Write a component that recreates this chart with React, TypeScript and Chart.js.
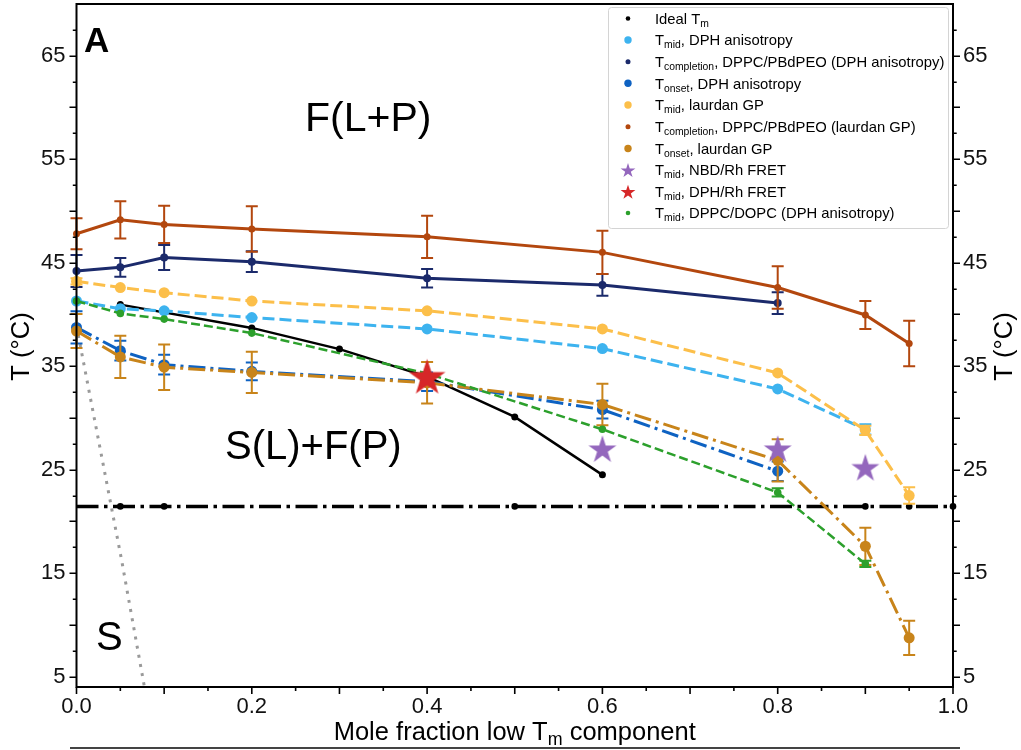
import React, { useEffect, useRef } from "react";
import { Chart, registerables } from "chart.js";

Chart.register(...registerables);

const FONT = '"Liberation Sans", Arial, Helvetica, sans-serif';

// ---------------- data ----------------
const idealX = [0.05, 0.2, 0.3, 0.4, 0.5, 0.6];
const idealY = [40.95, 38.7, 36.65, 34.0, 30.1, 24.5];

const eutecticX = [0, 0.05, 0.1, 0.5, 0.9, 0.95, 1.0];
const eutecticY = [21.45, 21.45, 21.45, 21.45, 21.45, 21.45, 21.45];
const eutecticDot = [0, 3.3, 3.3, 3.3, 3.3, 3.3, 3.3];

const solidusX = [0, 0.0516, 0.0775];
const solidusY = [38.9, 16.2, 4.0];

const dphMidX = [0, 0.05, 0.1, 0.2, 0.4, 0.6, 0.8, 0.9];
const dphMidY = [41.3, 40.55, 40.35, 39.7, 38.6, 36.7, 32.8, 28.9];
const dphMidErr = [0, 0, 0, 0, 0, 0, 0, 0.5];

const dphCompX = [0, 0.05, 0.1, 0.2, 0.4, 0.6, 0.8];
const dphCompY = [44.2, 44.55, 45.5, 45.1, 43.5, 42.85, 41.1];
const dphCompErr = [1.55, 0.9, 1.2, 1.0, 0.9, 1.05, 1.05];

const dphOnsetX = [0, 0.05, 0.1, 0.2, 0.4, 0.6, 0.8];
const dphOnsetY = [38.75, 36.5, 35.15, 34.5, 33.5, 30.8, 24.85];
const dphOnsetErr = [1.55, 0.95, 0.95, 0.85, 0.9, 0.85, 0.95];

const lauMidX = [0, 0.05, 0.1, 0.2, 0.4, 0.6, 0.8, 0.9, 0.95];
const lauMidY = [43.2, 42.6, 42.1, 41.3, 40.35, 38.6, 34.35, 28.8, 22.5];
const lauMidErr = [0.3, 0, 0, 0, 0, 0, 0, 0.45, 0.8];

const lauCompX = [0, 0.05, 0.1, 0.2, 0.4, 0.6, 0.8, 0.9, 0.95];
const lauCompY = [47.8, 49.15, 48.7, 48.25, 47.5, 46.0, 42.6, 39.95, 37.2];
const lauCompErr = [1.5, 1.8, 1.8, 2.2, 2.05, 2.1, 2.05, 1.35, 2.2];

const lauOnsetX = [0, 0.05, 0.1, 0.2, 0.4, 0.6, 0.8, 0.9, 0.95];
const lauOnsetY = [38.4, 35.9, 34.9, 34.4, 33.4, 31.3, 25.9, 17.6, 8.75];
const lauOnsetErr = [1.65, 2.05, 2.2, 2.0, 2.0, 2.0, 2.05, 1.8, 1.65];

const nbdX = [0.6, 0.8, 0.9];
const nbdY = [26.9, 26.9, 25.1];

const dphRhX = [0.4];
const dphRhY = [33.85];

const dopcX = [0, 0.05, 0.1, 0.2, 0.4, 0.6, 0.8, 0.9];
const dopcY = [41.3, 40.1, 39.55, 38.2, 34.3, 28.9, 22.8, 15.9];
const dopcErr = [0, 0, 0, 0, 0, 0, 0.4, 0.3];

const xTickLabels = [0, 0.2, 0.4, 0.6, 0.8, 1.0];
const yTickLabels = [5, 15, 25, 35, 45, 55, 65];

type Seg = { t: string; sub?: boolean };
const legendLabels: Seg[][] = [
  [{ t: "Ideal T" }, { t: "m", sub: true }],
  [{ t: "T" }, { t: "mid", sub: true }, { t: ", DPH anisotropy" }],
  [{ t: "T" }, { t: "completion", sub: true }, { t: ", DPPC/PBdPEO (DPH anisotropy)" }],
  [{ t: "T" }, { t: "onset", sub: true }, { t: ", DPH anisotropy" }],
  [{ t: "T" }, { t: "mid", sub: true }, { t: ", laurdan GP" }],
  [{ t: "T" }, { t: "completion", sub: true }, { t: ", DPPC/PBdPEO (laurdan GP)" }],
  [{ t: "T" }, { t: "onset", sub: true }, { t: ", laurdan GP" }],
  [{ t: "T" }, { t: "mid", sub: true }, { t: ", NBD/Rh FRET" }],
  [{ t: "T" }, { t: "mid", sub: true }, { t: ", DPH/Rh FRET" }],
  [{ t: "T" }, { t: "mid", sub: true }, { t: ", DPPC/DOPC (DPH anisotropy)" }],
];

// ---------------- styles ----------------
const C = {
  black: "#000000",
  grey: "#9a9a9a",
  lightBlue: "#3db3ef",
  navy: "#1b2a6b",
  blue: "#0e62c2",
  yellow: "#fcbf4a",
  rust: "#b3470e",
  gold: "#c8841a",
  purple: "#9467bd",
  red: "#d62728",
  green: "#2ca02c",
};

const legendMarkers: { kind: "dot" | "star"; color: string; r: number }[] = [
  { kind: "dot", color: C.black, r: 2.3 },
  { kind: "dot", color: C.lightBlue, r: 3.7 },
  { kind: "dot", color: C.navy, r: 2.5 },
  { kind: "dot", color: C.blue, r: 3.7 },
  { kind: "dot", color: C.yellow, r: 3.7 },
  { kind: "dot", color: C.rust, r: 2.5 },
  { kind: "dot", color: C.gold, r: 3.7 },
  { kind: "star", color: C.purple, r: 7.8 },
  { kind: "star", color: C.red, r: 7.8 },
  { kind: "dot", color: C.green, r: 2.3 },
];

function starPath(g: CanvasRenderingContext2D, cx: number, cy: number, R: number) {
  const r = R * 0.381966;
  g.beginPath();
  for (let i = 0; i < 10; i++) {
    const a = -Math.PI / 2 + (i * Math.PI) / 5;
    const rr = i % 2 === 0 ? R : r;
    const px = cx + rr * Math.cos(a);
    const py = cy + rr * Math.sin(a);
    if (i === 0) g.moveTo(px, py);
    else g.lineTo(px, py);
  }
  g.closePath();
}

function makeStar(R: number, color: string): HTMLCanvasElement {
  const size = Math.ceil(2 * R + 4);
  const c = document.createElement("canvas");
  c.width = size;
  c.height = size;
  const g = c.getContext("2d")!;
  g.fillStyle = color;
  starPath(g, size / 2, size / 2, R);
  g.fill();
  return c;
}

function pts(xs: number[], ys: number[]) {
  return xs.map((x, i) => ({ x, y: ys[i] }));
}

function richWidth(ctx: CanvasRenderingContext2D, segs: Seg[], size: number) {
  let w = 0;
  for (const s of segs) {
    ctx.font = `${s.sub ? size * 0.7 : size}px ${FONT}`;
    w += ctx.measureText(s.t).width;
  }
  return w;
}

function drawRich(
  ctx: CanvasRenderingContext2D,
  segs: Seg[],
  x: number,
  y: number,
  size: number,
  subDrop: number,
  align: "left" | "center"
) {
  const w = richWidth(ctx, segs, size);
  let cx = align === "center" ? x - w / 2 : x;
  ctx.textAlign = "left";
  ctx.textBaseline = "alphabetic";
  for (const s of segs) {
    ctx.font = `${s.sub ? size * 0.7 : size}px ${FONT}`;
    ctx.fillText(s.t, cx, s.sub ? y + subDrop : y);
    cx += ctx.measureText(s.t).width;
  }
}

// ---------------- plugins ----------------
const errorBarPlugin = {
  id: "errorBars",
  beforeDatasetDraw(chart: any, args: any) {
    const ds = chart.data.datasets[args.index];
    if (!ds.errs) return;
    const ctx: CanvasRenderingContext2D = chart.ctx;
    const xs = chart.scales.x;
    const ys = chart.scales.y;
    ctx.save();
    ctx.strokeStyle = ds.borderColor;
    ctx.lineWidth = 2;
    ctx.setLineDash([]);
    ds.data.forEach((p: any, i: number) => {
      const e = ds.errs[i];
      if (!e) return;
      const px = xs.getPixelForValue(p.x);
      const y1 = ys.getPixelForValue(p.y - e);
      const y2 = ys.getPixelForValue(p.y + e);
      ctx.beginPath();
      ctx.moveTo(px, y1);
      ctx.lineTo(px, y2);
      ctx.moveTo(px - 6, y1);
      ctx.lineTo(px + 6, y1);
      ctx.moveTo(px - 6, y2);
      ctx.lineTo(px + 6, y2);
      ctx.stroke();
    });
    ctx.restore();
  },
};

const framePlugin = {
  id: "frameTicks",
  afterDatasetsDraw(chart: any) {
    const ctx: CanvasRenderingContext2D = chart.ctx;
    const { left, right, top, bottom } = chart.chartArea;
    const xs = chart.scales.x;
    const ys = chart.scales.y;
    ctx.save();
    ctx.strokeStyle = "#000";
    ctx.setLineDash([]);
    ctx.lineWidth = 2;
    ctx.strokeRect(left, top, right - left, bottom - top);
    ctx.lineWidth = 1.6;
    ctx.beginPath();
    for (let k = 2; k <= 27; k++) {
      const v = k * 2.5;
      const major = k % 2 === 0;
      const len = major ? 7 : 3.7;
      const py = Math.round(ys.getPixelForValue(v)) + 0.2;
      ctx.moveTo(left - len, py);
      ctx.lineTo(left, py);
      ctx.moveTo(right, py);
      ctx.lineTo(right + len, py);
    }
    for (let k = 0; k <= 20; k++) {
      const v = k * 0.05;
      const major = k % 2 === 0;
      const len = major ? 7 : 4;
      const px = xs.getPixelForValue(v);
      ctx.moveTo(px, bottom);
      ctx.lineTo(px, bottom + len);
    }
    ctx.stroke();
    ctx.restore();
  },
};

const annotationPlugin = {
  id: "annotations",
  afterDraw(chart: any) {
    const ctx: CanvasRenderingContext2D = chart.ctx;
    const { left, right, top, bottom } = chart.chartArea;
    ctx.save();
    ctx.fillStyle = "#000";

    // panel letter
    ctx.font = `bold 35px ${FONT}`;
    ctx.textAlign = "left";
    ctx.textBaseline = "alphabetic";
    ctx.fillText("A", 84, 52);

    // region labels
    ctx.font = `41px ${FONT}`;
    ctx.fillText("F(L+P)", 305, 131);
    ctx.font = `40px ${FONT}`;
    ctx.fillText("S(L)+F(P)", 225, 459);
    ctx.fillText("S", 96, 650);

    // axis titles
    ctx.font = `25.5px ${FONT}`;
    const midY = (top + bottom) / 2 + 1;
    ctx.save();
    ctx.translate(29, midY);
    ctx.rotate(-Math.PI / 2);
    ctx.textAlign = "center";
    ctx.fillText("T (°C)", 0, 0);
    ctx.restore();
    ctx.save();
    ctx.translate(1011.5, midY);
    ctx.rotate(-Math.PI / 2);
    ctx.textAlign = "center";
    ctx.fillText("T (°C)", 0, 0);
    ctx.restore();

    drawRich(
      ctx,
      [{ t: "Mole fraction low T" }, { t: "m", sub: true }, { t: " component" }],
      (left + right) / 2,
      740,
      25.5,
      4.5,
      "center"
    );

    // cut edge line at bottom
    ctx.strokeStyle = "#444";
    ctx.lineWidth = 2;
    ctx.beginPath();
    ctx.moveTo(70, 748);
    ctx.lineTo(960, 748);
    ctx.stroke();

    // legend
    const bx = 608.5, by = 7.5, bw = 340, bh = 221;
    ctx.beginPath();
    const rr = 3;
    ctx.moveTo(bx + rr, by);
    ctx.lineTo(bx + bw - rr, by);
    ctx.quadraticCurveTo(bx + bw, by, bx + bw, by + rr);
    ctx.lineTo(bx + bw, by + bh - rr);
    ctx.quadraticCurveTo(bx + bw, by + bh, bx + bw - rr, by + bh);
    ctx.lineTo(bx + rr, by + bh);
    ctx.quadraticCurveTo(bx, by + bh, bx, by + bh - rr);
    ctx.lineTo(bx, by + rr);
    ctx.quadraticCurveTo(bx, by, bx + rr, by);
    ctx.closePath();
    ctx.fillStyle = "rgba(255,255,255,0.85)";
    ctx.fill();
    ctx.strokeStyle = "#d4d4d4";
    ctx.lineWidth = 1;
    ctx.stroke();

    const rowY = [18.5, 40, 61.7, 83.3, 105, 126.7, 148.5, 170, 191.7, 213];
    legendLabels.forEach((segs, i) => {
      const m = legendMarkers[i];
      const cy = rowY[i];
      ctx.fillStyle = m.color;
      if (m.kind === "dot") {
        ctx.beginPath();
        ctx.arc(628, cy, m.r, 0, Math.PI * 2);
        ctx.fill();
      } else {
        starPath(ctx, 628, cy + 0.8, m.r);
        ctx.fill();
      }
      ctx.fillStyle = "#000";
      drawRich(ctx, segs, 655, cy + 5.4, 14.8, 3, "left");
    });
    ctx.restore();
  },
};

function noPad(s: any) {
  s.paddingTop = 0;
  s.paddingBottom = 0;
  s.paddingLeft = 0;
  s.paddingRight = 0;
}

// ---------------- component ----------------
export default function App() {
  const ref = useRef<HTMLCanvasElement>(null);

  useEffect(() => {
    const canvas = ref.current;
    if (!canvas) return;

    const purpleStar = makeStar(14.7, C.purple);
    const redStar = makeStar(19.3, C.red);

    const base = {
      tension: 0,
      pointBorderWidth: 0,
      pointHoverRadius: 0,
      clip: false as any,
      fill: false,
    };

    const datasets: any[] = [
      {
        ...base,
        label: "Ideal Tm",
        data: pts(idealX, idealY),
        borderColor: C.black,
        backgroundColor: C.black,
        pointBackgroundColor: C.black,
        borderWidth: 2.5,
        pointRadius: 3.5,
      },
      {
        ...base,
        label: "eutectic",
        data: pts(eutecticX, eutecticY),
        borderColor: C.black,
        pointBackgroundColor: C.black,
        borderWidth: 3.5,
        borderDash: [22, 5.5, 3.5, 5.5],
        pointRadius: eutecticDot,
      },
      {
        ...base,
        label: "solidus",
        data: pts(solidusX, solidusY),
        borderColor: C.grey,
        borderWidth: 3,
        borderDash: [3, 6.3],
        pointRadius: 0,
      },
      {
        ...base,
        label: "Tmid DPH",
        data: pts(dphMidX, dphMidY),
        errs: dphMidErr,
        borderColor: C.lightBlue,
        pointBackgroundColor: C.lightBlue,
        borderWidth: 3,
        borderDash: [12, 5],
        pointRadius: 5.5,
      },
      {
        ...base,
        label: "Tcomp DPH",
        data: pts(dphCompX, dphCompY),
        errs: dphCompErr,
        borderColor: C.navy,
        pointBackgroundColor: C.navy,
        borderWidth: 3,
        pointRadius: 4,
      },
      {
        ...base,
        label: "Tonset DPH",
        data: pts(dphOnsetX, dphOnsetY),
        errs: dphOnsetErr,
        borderColor: C.blue,
        pointBackgroundColor: C.blue,
        borderWidth: 3,
        borderDash: [17, 5, 3, 5],
        pointRadius: 5.5,
      },
      {
        ...base,
        label: "Tmid laurdan",
        data: pts(lauMidX, lauMidY),
        errs: lauMidErr,
        borderColor: C.yellow,
        pointBackgroundColor: C.yellow,
        borderWidth: 3,
        borderDash: [12, 5],
        pointRadius: 5.5,
      },
      {
        ...base,
        label: "Tcomp laurdan",
        data: pts(lauCompX, lauCompY),
        errs: lauCompErr,
        borderColor: C.rust,
        pointBackgroundColor: C.rust,
        borderWidth: 3,
        pointRadius: 3.5,
      },
      {
        ...base,
        label: "Tonset laurdan",
        data: pts(lauOnsetX, lauOnsetY),
        errs: lauOnsetErr,
        borderColor: C.gold,
        pointBackgroundColor: C.gold,
        borderWidth: 3,
        borderDash: [17, 5, 3, 5],
        pointRadius: 5.5,
      },
      {
        ...base,
        label: "NBD/Rh FRET",
        data: pts(nbdX, nbdY),
        showLine: false,
        borderColor: C.purple,
        pointStyle: purpleStar,
        pointRadius: 10,
      },
      {
        ...base,
        label: "DPPC/DOPC",
        data: pts(dopcX, dopcY),
        errs: dopcErr,
        borderColor: C.green,
        pointBackgroundColor: C.green,
        borderWidth: 2.5,
        borderDash: [9, 4],
        pointRadius: 3.8,
      },
      {
        ...base,
        label: "DPH/Rh FRET",
        data: pts(dphRhX, dphRhY),
        showLine: false,
        borderColor: C.red,
        pointStyle: redStar,
        pointRadius: 10,
      },
    ];
    datasets.forEach((d, i) => (d.order = -i));

    const tickFont = { family: FONT, size: 22 };

    const chart = new Chart(canvas, {
      type: "line",
      data: { datasets },
      options: {
        animation: false,
        responsive: false,
        devicePixelRatio: 1,
        events: [],
        layout: { autoPadding: false, padding: { top: 4, left: 0, right: 0, bottom: 0 } },
        plugins: {
          legend: { display: false },
          tooltip: { enabled: false },
          title: { display: false },
        },
        scales: {
          x: {
            type: "linear",
            position: "bottom",
            min: 0,
            max: 1,
            grid: { display: false, drawTicks: false },
            border: { display: false },
            afterBuildTicks: (s: any) => {
              s.ticks = xTickLabels.map((v) => ({ value: v }));
            },
            afterFit: (s: any) => {
              s.height = 63;
              noPad(s);
            },
            ticks: {
              autoSkip: false,
              maxRotation: 0,
              padding: 7,
              color: "#111",
              font: tickFont,
              callback: (v: any) => Number(v).toFixed(1),
            },
          },
          y: {
            type: "linear",
            position: "left",
            min: 4,
            max: 70,
            grid: { display: false, drawTicks: false },
            border: { display: false },
            afterBuildTicks: (s: any) => {
              s.ticks = yTickLabels.map((v) => ({ value: v }));
            },
            afterFit: (s: any) => {
              s.width = 76.5;
              noPad(s);
            },
            ticks: {
              autoSkip: false,
              padding: 11,
              color: "#111",
              font: tickFont,
              callback: (v: any) => String(v),
            },
          },
          y2: {
            type: "linear",
            position: "right",
            min: 4,
            max: 70,
            grid: { display: false, drawTicks: false },
            border: { display: false },
            afterBuildTicks: (s: any) => {
              s.ticks = yTickLabels.map((v) => ({ value: v }));
            },
            afterFit: (s: any) => {
              s.width = 68;
              noPad(s);
            },
            ticks: {
              autoSkip: false,
              padding: 10,
              color: "#111",
              font: tickFont,
              callback: (v: any) => String(v),
            },
          },
        },
      } as any,
      plugins: [errorBarPlugin, framePlugin, annotationPlugin] as any,
    });

    return () => chart.destroy();
  }, []);

  return (
    <div
      style={{
        position: "absolute",
        left: 0,
        top: 0,
        width: 1021,
        height: 750,
        background: "#fff",
      }}
    >
      <canvas
        ref={ref}
        width={1021}
        height={750}
        style={{ display: "block", width: 1021, height: 750 }}
      />
    </div>
  );
}
